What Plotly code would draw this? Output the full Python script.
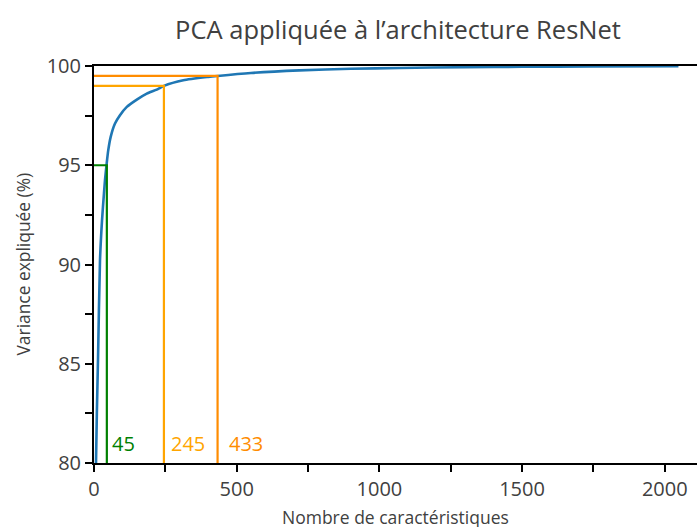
import plotly.graph_objects as go

# Cumulative explained variance
n_features = [7, 10, 14, 21, 28, 35, 38.5, 44.5, 50, 58.5, 73.6, 91, 115, 150, 185, 220, 245,
              313, 400, 433, 550, 720, 900, 1070, 1300, 1500, 1740, 2048]
variance = [80.0, 82.5, 85.2, 90.2, 92.2, 93.6, 94.25, 95.1, 95.76, 96.43, 97.1, 97.52, 97.94,
            98.31, 98.61, 98.81, 99.0, 99.28, 99.45, 99.5, 99.65, 99.78, 99.86, 99.9, 99.94,
            99.96, 99.98, 99.99]

thresholds = [95, 99, 99.5]
n_components = [45, 245, 433]
thr_colors = ["#008000", "#FFA500", "#FF8C00"]
label_shift = [3, 5, 9]

font_family = "Open Sans, Lato, DejaVu Sans, sans-serif"
text_color = "#404040"

W, H = 697, 527
L, R, T, B = 94, 0, 66, 64

fig = go.Figure()
fig.add_trace(go.Scatter(x=n_features, y=variance, mode="lines",
                         line=dict(color="#1f77b4", width=2.6, shape="spline", smoothing=0.6),
                         showlegend=False, hoverinfo="skip"))

for t, n, c, s in zip(thresholds, n_components, thr_colors, label_shift):
    fig.add_trace(go.Scatter(x=[0, n, n], y=[t, t, 80], mode="lines", line=dict(color=c, width=2.2),
                             showlegend=False, hoverinfo="skip"))
    fig.add_annotation(x=n, y=80.97, text=str(n), showarrow=False, xanchor="left", xshift=s,
                       font=dict(color=c, size=20, family=font_family))

# axis titles placed explicitly
fig.add_annotation(xref="paper", yref="paper", x=(395 - L) / (W - L - R), y=0, yshift=-54,
                   xanchor="center", yanchor="middle", showarrow=False, text="Nombre de caractéristiques",
                   font=dict(size=17.5, color=text_color, family=font_family))
fig.add_annotation(xref="paper", yref="paper", x=0, xshift=-72, y=0.5, textangle=-90,
                   xanchor="center", yanchor="middle", showarrow=False, text="Variance expliquée (%)",
                   font=dict(size=17.4, color=text_color, family=font_family))

fig.update_layout(
    width=W, height=H,
    margin=dict(l=L, r=R, t=T, b=B, autoexpand=False),
    plot_bgcolor="white", paper_bgcolor="white",
    title=dict(text="PCA appliquée à l’architecture ResNet", x=398 / W, xanchor="center",
               y=1 - 30 / H, yanchor="middle", font=dict(size=25.5, color=text_color, family=font_family)),
    font=dict(family=font_family, color=text_color, size=15),
)
fig.update_xaxes(range=[0, 2113], tickvals=[0, 500, 1000, 1500, 2000], ticks="outside", ticklen=7, tickwidth=1.5,
                 tickcolor="black", showline=True, linecolor="black", linewidth=2, mirror=True, showgrid=False,
                 zeroline=False, automargin=False, tickfont=dict(size=20, color=text_color),
                 minor=dict(tickvals=[250, 750, 1250, 1750], ticks="outside", ticklen=7, tickwidth=1.5, tickcolor="black"))
fig.update_yaxes(range=[80, 100], tickvals=[80, 85, 90, 95, 100], ticks="outside", ticklen=7, tickwidth=1.5,
                 tickcolor="black", showline=True, linecolor="black", linewidth=2, showgrid=False, zeroline=False,
                 automargin=False, tickfont=dict(size=20, color=text_color),
                 minor=dict(tickvals=[82.5, 87.5, 92.5, 97.5], ticks="outside", ticklen=7, tickwidth=1.5, tickcolor="black"))

# remove the page's default 8px body margin so the figure fills the window exactly
page_fix = ("document.documentElement.style.margin='0';document.body.style.margin='0';"
            "document.documentElement.style.overflow='hidden';document.body.style.overflow='hidden';")
fig.write_html("out.html", post_script=page_fix, config={"displayModeBar": False})
